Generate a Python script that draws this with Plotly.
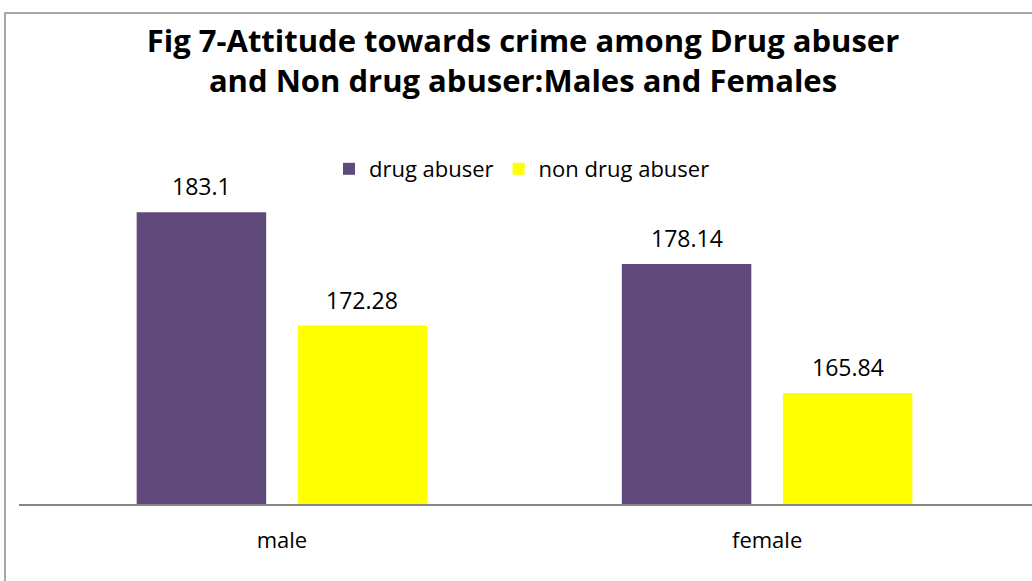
import plotly.graph_objects as go

categories = ["male", "female"]
drug_abuser = [183.1, 178.14]
non_drug_abuser = [172.28, 165.84]
series_names = ["drug abuser", "non drug abuser"]
colors = ["#604A7B", "#FFFF00"]

BARGAP = 0.336
BARGROUPGAP = 0.196
FONT = "Open Sans"
TXT = 22

fig = go.Figure()
for name, vals, col in zip(series_names, [drug_abuser, non_drug_abuser], colors):
    fig.add_trace(go.Bar(x=categories, y=vals, name=name, marker=dict(color=col, line=dict(width=0))))

# data labels positioned above bars
slot = (1 - BARGAP) / 2
for s, vals in enumerate([drug_abuser, non_drug_abuser]):
    off = -slot / 2 if s == 0 else slot / 2
    for i, v in enumerate(vals):
        fig.add_annotation(x=i + off, y=v, xref="x", yref="y", text=f"{v:g}",
                           showarrow=False, yshift=26, yanchor="middle",
                           font=dict(family=FONT, size=23, color="#000000"))

W, H = 1032, 581
L, R, T, B = 19, 0, 150, 77
pw, ph = W - L - R, H - T - B
fig.add_shape(type="rect", xref="paper", yref="paper",
              x0=(5 - L) / pw, x1=1.2, y0=-0.6, y1=(H - B - 13) / ph,
              line=dict(color="#8C8C8C", width=1.5), fillcolor="rgba(0,0,0,0)", layer="below")

fig.update_layout(
    width=W, height=H,
    margin=dict(l=L, r=R, t=T, b=B),
    paper_bgcolor="white", plot_bgcolor="white",
    barmode="group", bargap=BARGAP, bargroupgap=BARGROUPGAP,
    title=dict(text="Fig 7-Attitude towards crime among Drug abuser<br>and Non drug abuser:Males and Females",
               x=0.5 + 7 / W, xanchor="center", xref="container", y=1 - 52 / H, yref="container", yanchor="top",
               font=dict(family=FONT, size=31, color="#000000", weight="bold")),
    legend=dict(orientation="h", x=(522 - L) / pw, xanchor="center", y=(H - B - 169) / ph, yanchor="middle",
                font=dict(family=FONT, size=TXT, color="#000000"), itemwidth=30, bgcolor="rgba(0,0,0,0)"),
    xaxis=dict(range=[-0.542, 1.546], showline=True, linecolor="#868686", linewidth=2,
               showgrid=False, ticks="", ticklabelstandoff=16,
               tickfont=dict(family=FONT, size=TXT, color="#000000")),
    yaxis=dict(range=[155.25, 189.03], visible=False, showgrid=False, zeroline=False),
    showlegend=True,
)
fig.write_html("out.html", config={"displayModeBar": False},
               post_script="document.body.style.margin='0';")
